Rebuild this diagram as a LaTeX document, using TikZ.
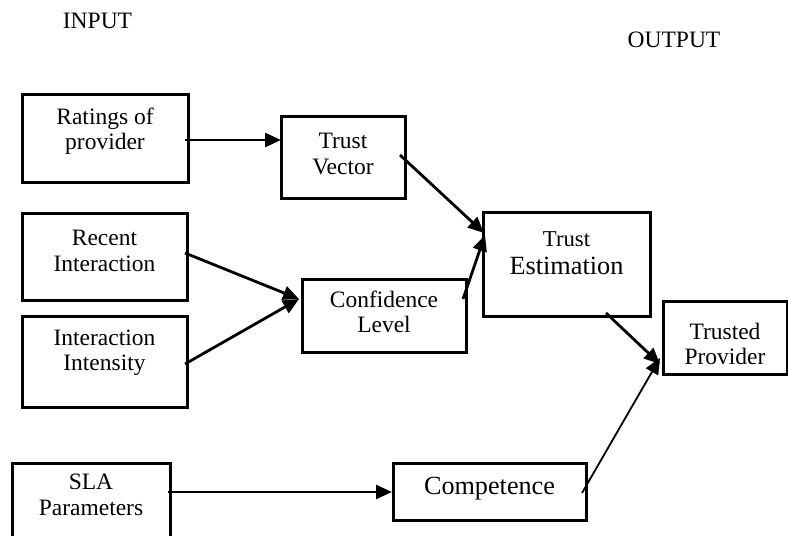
\documentclass[tikz,border=0pt]{standalone}
\usepackage{fontspec}
\setmainfont{Liberation Serif}
\usetikzlibrary{arrows.meta}
\tikzset{
  box/.style={draw, line width=3pt, minimum width=#1, inner sep=0pt},
  txt/.style={align=center, inner sep=0pt, font=\fontsize{23.5}{25.5}\selectfont},
  arr/.style={line width=2.8pt, -{Triangle[length=16pt,width=14pt]}},
  thinarr/.style={line width=1.8pt, -{Triangle[length=16pt,width=14pt]}}
}
\begin{document}
\begin{tikzpicture}[x=1pt,y=-1pt]
\useasboundingbox (0,0) rectangle (788,536);
\clip (0,0) rectangle (788,536);
% headings
\node[txt] (inp) at (97.5,21) {INPUT};
\node[txt] (outp) at (674,39.5) {OUTPUT};
% boxes
\node[box=166pt, minimum height=88pt] (rat) at (105,138) {};
\node[txt] (ratt) at (105,131) {Ratings of\\provider};
\node[box=124pt, minimum height=82pt] (tv) at (343,157) {};
\node[txt] (tvt) at (343,154) {Trust\\Vector};
\node[box=165pt, minimum height=87pt] (rec) at (104.5,256.5) {};
\node[txt] (rect) at (104.5,251) {Recent\\Interaction};
\node[box=165pt, minimum height=91pt] (int) at (104.5,361.5) {};
\node[txt] (intt) at (104.5,353) {Interaction\\Intensity};
\node[box=164pt, minimum height=73pt] (conf) at (384,315.5) {};
\node[txt] (conft) at (384,312) {Confidence\\Level};
\node[box=167pt, minimum height=104pt] (te) at (566.5,264) {};
\node[align=center, inner sep=0pt, font=\fontsize{26.3}{28}\selectfont] (tet) at (566.5,253) {{\fontsize{22.7}{28}\selectfont Trust}\\Estimation};
\node[box=124pt, minimum height=73pt] (tp) at (725,337.5) {};
\node[txt] (tpt) at (725,344) {Trusted\\Provider};
\node[box=158pt, minimum height=112pt] (sla) at (91,519) {};
\node[txt] (slat) at (91,495) {SLA\\Parameters};
\node[box=193pt, minimum height=57pt] (comp) at (489.5,491.5) {};
\node[inner sep=0pt, font=\fontsize{26.2}{28}\selectfont] (compt) at (489.5,489) {Competence};
% connector end points
\coordinate (a1s) at (185,140);
\coordinate (a1e) at (281,140);
\coordinate (a2s) at (400,155);
\coordinate (a2e) at (484,233);
\coordinate (a3s) at (185,253);
\coordinate (a3e) at (299,299);
\coordinate (a4s) at (185,364);
\coordinate (a5s) at (463,299);
\coordinate (a5e) at (485,235);
\coordinate (a6s) at (606,313);
\coordinate (a6e) at (660,364);
\coordinate (a7s) at (168,492);
\coordinate (a7e) at (392,492);
\coordinate (a8s) at (582,493);
\coordinate (a8e) at (660,358);
% connectors
\draw[arr] (a1s) -- (a1e);
\draw[arr] (a2s) -- (a2e);
\draw[arr] (a3s) -- (a3e);
\draw[arr] (a4s) -- (a3e);
\draw[arr] (a5s) -- (a5e);
\draw[arr] (a6s) -- (a6e);
\draw[arr] (a7s) -- (a7e);
\draw[thinarr] (a8s) -- (a8e);
\end{tikzpicture}
\end{document}
